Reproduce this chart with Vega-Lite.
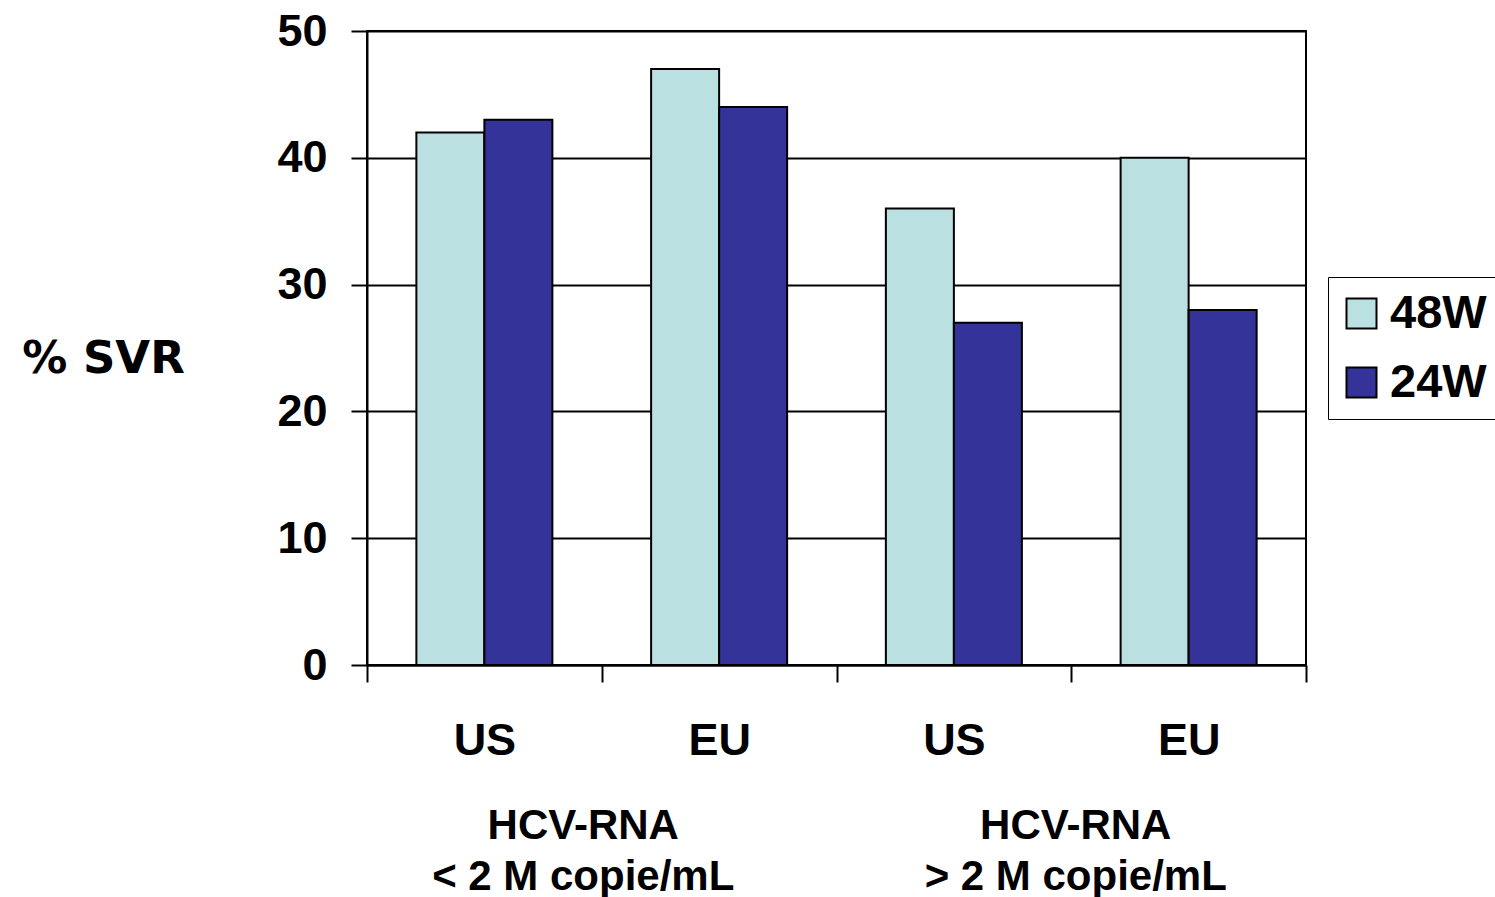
{
  "$schema": "https://vega.github.io/schema/vega-lite/v6.json",
  "autosize": "none",
  "width": 939,
  "height": 634,
  "padding": {"left": 367, "top": 31, "right": 189, "bottom": 232},
  "background": "white",
  "config": {
    "view": {"stroke": "black", "strokeWidth": 2},
    "font": "Liberation Sans"
  },
  "data": {
    "values": [
      {"key": "US|lo", "group": "HCV-RNA|< 2 M copie/mL", "series": "48W", "svr": 42},
      {"key": "US|lo", "group": "HCV-RNA|< 2 M copie/mL", "series": "24W", "svr": 43},
      {"key": "EU|lo", "group": "HCV-RNA|< 2 M copie/mL", "series": "48W", "svr": 47},
      {"key": "EU|lo", "group": "HCV-RNA|< 2 M copie/mL", "series": "24W", "svr": 44},
      {"key": "US|hi", "group": "HCV-RNA|> 2 M copie/mL", "series": "48W", "svr": 36},
      {"key": "US|hi", "group": "HCV-RNA|> 2 M copie/mL", "series": "24W", "svr": 27},
      {"key": "EU|hi", "group": "HCV-RNA|> 2 M copie/mL", "series": "48W", "svr": 40},
      {"key": "EU|hi", "group": "HCV-RNA|> 2 M copie/mL", "series": "24W", "svr": 28}
    ]
  },
  "layer": [
    {
      "mark": {"type": "bar", "stroke": "black", "strokeWidth": 2},
      "encoding": {
        "x": {
          "field": "key",
          "type": "nominal",
          "sort": ["US|lo", "EU|lo", "US|hi", "EU|hi"],
          "scale": {"paddingInner": 0, "paddingOuter": 0},
          "axis": {
            "title": null,
            "labelExpr": "split(datum.label, '|')[0]",
            "labelAngle": 0,
            "labelFont": "Liberation Sans",
            "labelFontWeight": "bold",
            "labelFontSize": 45,
            "labelColor": "black",
            "labelPadding": 36,
            "domainColor": "black",
            "domainWidth": 2,
            "tickBand": "extent",
            "tickColor": "black",
            "tickWidth": 2,
            "tickSize": 17
          }
        },
        "xOffset": {
          "field": "series",
          "type": "nominal",
          "sort": ["48W", "24W"],
          "scale": {"paddingInner": 0, "paddingOuter": 0.726}
        },
        "y": {
          "field": "svr",
          "type": "quantitative",
          "scale": {"domain": [0, 50], "nice": false},
          "axis": {
            "values": [0, 10, 20, 30, 40, 50],
            "title": "% SVR",
            "titleFont": "DejaVu Sans",
            "titleFontWeight": "bold",
            "titleFontSize": 45,
            "titleColor": "black",
            "titleAngle": 0,
            "titleAlign": "center",
            "titleBaseline": "middle",
            "titleX": -264,
            "titleY": 327,
            "labelFont": "Liberation Sans",
            "labelFontWeight": "bold",
            "labelFontSize": 45,
            "labelColor": "black",
            "labelPadding": 24,
            "domainColor": "black",
            "domainWidth": 2,
            "tickColor": "black",
            "tickWidth": 2,
            "tickSize": 16,
            "grid": true,
            "gridColor": "black",
            "gridWidth": 2,
            "gridOpacity": 1
          }
        },
        "color": {
          "field": "series",
          "type": "nominal",
          "sort": ["48W", "24W"],
          "scale": {"domain": ["48W", "24W"], "range": ["#BAE0E2", "#333399"]},
          "legend": {
            "title": null,
            "orient": "none",
            "legendX": 961,
            "legendY": 246,
            "fillColor": "white",
            "strokeColor": "black",
            "padding": 13,
            "symbolType": "square",
            "symbolSize": 900,
            "symbolOffset": -3,
            "symbolStrokeColor": "black",
            "symbolStrokeWidth": 2,
            "symbolOpacity": 1,
            "labelFont": "Liberation Sans",
            "labelFontWeight": "bold",
            "labelFontSize": 47,
            "labelColor": "black",
            "labelOffset": 5,
            "rowPadding": 21
          }
        }
      }
    },
    {
      "mark": {"type": "point", "opacity": 0},
      "encoding": {
        "x": {
          "field": "group",
          "type": "nominal",
          "scale": {"paddingInner": 0, "paddingOuter": 0},
          "axis": {
            "title": null,
            "orient": "bottom",
            "domain": false,
            "ticks": false,
            "tickSize": 0,
            "grid": false,
            "labelAngle": 0,
            "labelLimit": 0,
            "labelExpr": "split(datum.label, '|')",
            "labelOffset": {"condition": {"test": "indexof(datum.value, '<') >= 0", "value": -19}, "value": 4},
            "labelFont": "Liberation Sans",
            "labelFontWeight": "bold",
            "labelFontSize": 42,
            "labelLineHeight": 51,
            "labelColor": "black",
            "labelPadding": 140
          }
        }
      }
    }
  ],
  "resolve": {"scale": {"x": "independent"}}
}
